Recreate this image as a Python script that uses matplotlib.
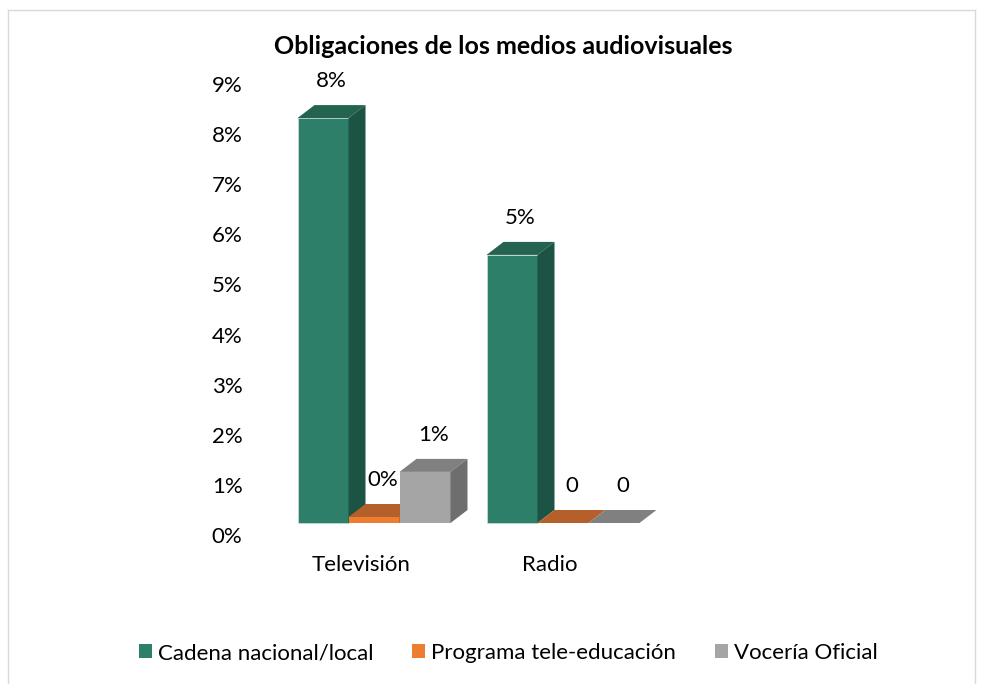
import matplotlib
matplotlib.use("Agg")
import matplotlib.pyplot as plt
from matplotlib.patches import Polygon, Patch
from matplotlib.lines import Line2D
import numpy as np

plt.rcParams['font.family'] = ['Lato', 'DejaVu Sans']

title = "Obligaciones de los medios audiovisuales"
categories = ["Televisión", "Radio"]
series = ["Cadena nacional/local", "Programa tele-educación", "Vocería Oficial"]
values = {
    "Cadena nacional/local": [8.08, 5.35],
    "Programa tele-educación": [0.12, 0.0],
    "Vocería Oficial": [1.02, 0.0],
}
data_labels = {
    "Cadena nacional/local": ["8%", "5%"],
    "Programa tele-educación": ["0%", "0"],
    "Vocería Oficial": ["1%", "0"],
}
yticks = list(range(0, 10))
ytick_labels = [f"{v}%" for v in yticks]

front_colors = ["#2E7F69", "#ED7D31", "#A5A5A5"]
top_colors = ["#246350", "#B5602A", "#808080"]
side_colors = ["#1D5344", "#9E5223", "#6E6E6E"]

W, H = 981, 684
fig = plt.figure(figsize=(W / 100, H / 100), dpi=100)
ax_l, ax_r, ax_t, ax_b = 255, 760, 70, 545
ax = fig.add_axes([ax_l / W, 1 - ax_b / H, (ax_r - ax_l) / W, (ax_b - ax_t) / H])

px_per_y = (535 - 84) / 9.0
px_per_x = 189.0
ax.set_ylim(-(545 - 535) / px_per_y, 9 + (84 - 70) / px_per_y)
ax.set_xlim((ax_l - 374) / px_per_x, (ax_r - 374) / px_per_x)

bar_w = 51 / px_per_x
dx = 17 / px_per_x
dy = 13 / px_per_y
base = (535 - 523) / px_per_y

x = np.arange(len(categories))
for ci in range(len(categories)):
    for si, s in enumerate(series):
        v = values[s][ci]
        xc = x[ci] + (si - 1) * bar_w
        x0, x1 = xc - bar_w / 2, xc + bar_w / 2
        top = base + v
        if v > 0:
            ax.bar(xc, v, width=bar_w, bottom=base, color=front_colors[si],
                   edgecolor="#d9e9e2" if si == 0 else "none", linewidth=0.4, zorder=2)
        ax.add_patch(Polygon([(x0, top), (x1, top), (x1 + dx, top + dy), (x0 + dx, top + dy)],
                             closed=True, facecolor=top_colors[si], edgecolor="none", zorder=2))
        if v > 0:
            ax.add_patch(Polygon([(x1, base), (x1 + dx, base + dy), (x1 + dx, top + dy), (x1, top)],
                                 closed=True, facecolor=side_colors[si], edgecolor="none", zorder=2))
        ax.annotate(data_labels[s][ci], xy=(xc + dx / 2, top + dy), xytext=(0, 24),
                    textcoords="offset pixels", ha="center", va="center", fontsize=16,
                    color="#000000")

ax.set_yticks(yticks)
ax.set_yticklabels(ytick_labels, fontsize=16)
ax.set_xticks(x - 0.07)
ax.set_xticklabels(categories, fontsize=16)
ax.tick_params(axis="y", length=0, pad=9)
ax.tick_params(axis="x", length=0, pad=7)
for sp in ax.spines.values():
    sp.set_visible(False)

fig.text(503 / W, 1 - 47 / H, title, ha="center", va="center", fontsize=18, fontweight="bold")

handles = [Patch(facecolor=c, edgecolor="none") for c in front_colors]
fig.legend(handles, series, loc="center", bbox_to_anchor=(508 / W, 1 - 653 / H), ncol=3,
           frameon=False, fontsize=16, handlelength=0.6, handleheight=0.6,
           handletextpad=0.25, columnspacing=1.75)

# outer frame
fc = "#D9D9D9"
fig.add_artist(Line2D([8 / W, 975 / W], [1 - 10 / H, 1 - 10 / H], color=fc, lw=1))
fig.add_artist(Line2D([8 / W, 8 / W], [1 - 10 / H, 0], color=fc, lw=1))
fig.add_artist(Line2D([975 / W, 975 / W], [1 - 10 / H, 0], color=fc, lw=1))

fig.savefig("out.png", dpi=100)
